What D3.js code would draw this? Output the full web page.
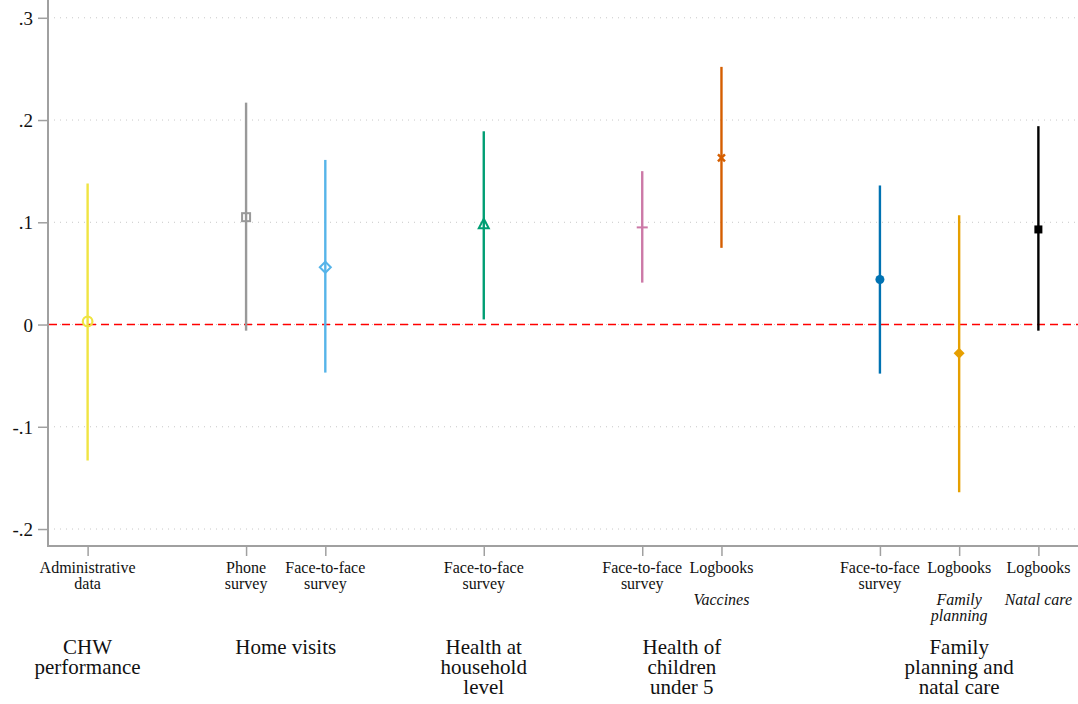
<!DOCTYPE html>
<html>
<head>
<meta charset="utf-8">
<script src="https://cdn.jsdelivr.net/npm/d3@7"></script>
<style>
  html, body { margin: 0; padding: 0; background: #ffffff; }
  svg { display: block; }
  svg text { font-family: "Liberation Serif", "Times New Roman", serif; }
</style>
</head>
<body>
<svg id="chart" width="1078" height="704"></svg>
<script>
// Outcome positions on the x axis (grouped with gaps between domains)
const positions = [1, 3, 4, 6, 8, 9, 11, 12, 13];
const tickLabels = [
  ["Administrative", "data"],
  ["Phone", "survey"],
  ["Face-to-face", "survey"],
  ["Face-to-face", "survey"],
  ["Face-to-face", "survey"],
  ["Logbooks"],
  ["Face-to-face", "survey"],
  ["Logbooks"],
  ["Logbooks"]
];
const subLabels = ["", "", "", "", "", "Vaccines", "", "Family|planning", "Natal care"];

// Point estimates and 95% confidence bounds
const estimates = [0.003, 0.105, 0.056, 0.098, 0.095, 0.163, 0.044, -0.028, 0.093];
const ciLow     = [-0.133, -0.006, -0.047, 0.005, 0.041, 0.075, -0.048, -0.164, -0.006];
const ciHigh    = [0.138, 0.217, 0.161, 0.189, 0.150, 0.252, 0.136, 0.107, 0.194];

const colors  = ["#f0e442", "#999999", "#56b4e9", "#009e73", "#cc79a7", "#d55e00", "#0072b2", "#e69f00", "#000000"];
const markers = ["circleHollow", "squareHollow", "diamondHollow", "triangleHollow", "plus", "x", "circle", "diamond", "square"];

// Domain groups
const groupNames = [
  ["CHW", "performance"],
  ["Home visits"],
  ["Health at", "household", "level"],
  ["Health of", "children", "under 5"],
  ["Family", "planning and", "natal care"]
];
const groupCenters = [1, 3.5, 6, 8.5, 12];

const yTicks = [0.3, 0.2, 0.1, 0, -0.1, -0.2];
const yTickLabels = [".3", ".2", ".1", "0", "-.1", "-.2"];

const serif = "Liberation Serif";
const svg = d3.select("#chart");
const plotLeft = 48, plotRight = 1078, plotTop = 0, plotBottom = 546;

const x = d3.scaleLinear().domain([0.5, 13.5]).range([plotLeft, plotRight]);
const y = d3.scaleLinear().domain([-0.2166, 0.3174]).range([plotBottom, plotTop]);

// Horizontal dotted gridlines
svg.append("g")
  .selectAll("line")
  .data(yTicks)
  .join("line")
  .attr("x1", plotLeft + 6).attr("x2", plotRight)
  .attr("y1", d => y(d)).attr("y2", d => y(d))
  .attr("stroke", "#c8c8c8")
  .attr("stroke-width", 1)
  .attr("stroke-dasharray", "1,5");

// Y axis
const yAxis = d3.axisLeft(y).tickValues(yTicks)
  .tickFormat((d, i) => yTickLabels[i]).tickSize(10).tickPadding(5);
const gy = svg.append("g").attr("transform", `translate(${plotLeft},0)`).call(yAxis)
  .attr("font-family", serif);
gy.select(".domain").remove();
gy.selectAll(".tick line").attr("stroke", "#a0a0a0").attr("stroke-width", 1.5);
gy.selectAll(".tick text").attr("font-size", 19).attr("font-family", serif).attr("fill", "#111").attr("dy", "0.34em");

// X axis
const xAxis = d3.axisBottom(x).tickValues(positions).tickFormat("").tickSize(10);
const gx = svg.append("g").attr("transform", `translate(0,${plotBottom})`).call(xAxis);
gx.select(".domain").remove();
gx.selectAll(".tick line").attr("stroke", "#a0a0a0").attr("stroke-width", 1.5);

// Axis lines
svg.append("line").attr("x1", plotLeft).attr("x2", plotLeft).attr("y1", 0).attr("y2", plotBottom + 1)
  .attr("stroke", "#a0a0a0").attr("stroke-width", 2);
svg.append("line").attr("x1", plotLeft).attr("x2", plotRight).attr("y1", plotBottom).attr("y2", plotBottom)
  .attr("stroke", "#a0a0a0").attr("stroke-width", 2);

// Zero reference line
svg.append("line")
  .attr("x1", plotLeft + 1).attr("x2", plotRight)
  .attr("y1", y(0)).attr("y2", y(0))
  .attr("stroke", "#ff0000")
  .attr("stroke-width", 1.6)
  .attr("stroke-dasharray", "8,5");

// Confidence intervals
svg.append("g")
  .selectAll("line")
  .data(positions)
  .join("line")
  .attr("x1", d => x(d)).attr("x2", d => x(d))
  .attr("y1", (d, i) => y(ciLow[i])).attr("y2", (d, i) => y(ciHigh[i]))
  .attr("stroke", (d, i) => colors[i])
  .attr("stroke-width", 2.4);

// Point estimate markers
const mg = svg.append("g");
positions.forEach((p, i) => {
  const cx = x(p), cy = y(estimates[i]), c = colors[i];
  const g = mg.append("g").attr("transform", `translate(${cx},${cy})`);
  switch (markers[i]) {
    case "circleHollow":
      g.append("circle").attr("r", 4.8).attr("fill", "none").attr("stroke", c).attr("stroke-width", 2.2);
      break;
    case "squareHollow":
      g.append("rect").attr("x", -4).attr("y", -4).attr("width", 8).attr("height", 8)
        .attr("fill", "none").attr("stroke", c).attr("stroke-width", 2);
      break;
    case "diamondHollow":
      g.append("path").attr("d", "M0,-5.5L5.5,0L0,5.5L-5.5,0Z").attr("fill", "none").attr("stroke", c).attr("stroke-width", 2);
      break;
    case "triangleHollow":
      g.append("path").attr("d", "M0,-5.5L5,4L-5,4Z").attr("fill", "none").attr("stroke", c).attr("stroke-width", 2);
      break;
    case "plus":
      g.append("path").attr("d", "M-5.5,0H5.5").attr("stroke", c).attr("stroke-width", 2);
      break;
    case "x":
      g.append("path").attr("d", "M-3.5,-3.5L3.5,3.5M-3.5,3.5L3.5,-3.5").attr("stroke", c).attr("stroke-width", 2.4);
      break;
    case "circle":
      g.append("circle").attr("r", 4.5).attr("fill", c);
      break;
    case "diamond":
      g.append("path").attr("d", "M0,-5.5L5.5,0L0,5.5L-5.5,0Z").attr("fill", c);
      break;
    case "square":
      g.append("rect").attr("x", -4).attr("y", -4).attr("width", 8).attr("height", 8).attr("fill", c);
      break;
  }
});

// Outcome labels under ticks
const lab = svg.append("g").attr("font-family", serif).attr("font-size", 16).attr("fill", "#111").attr("text-anchor", "middle");
positions.forEach((p, i) => {
  const t = lab.append("text").attr("x", x(p)).attr("y", 573);
  tickLabels[i].forEach((line, k) => {
    t.append("tspan").attr("x", x(p)).attr("dy", k === 0 ? 0 : 16).text(line);
  });
  if (subLabels[i]) {
    const s = lab.append("text").attr("x", x(p)).attr("y", 605).attr("font-style", "italic");
    subLabels[i].split("|").forEach((line, k) => {
      s.append("tspan").attr("x", x(p)).attr("dy", k === 0 ? 0 : 16).text(line);
    });
  }
});

// Domain group labels
const grp = svg.append("g").attr("font-family", serif).attr("font-size", 21).attr("fill", "#111").attr("text-anchor", "middle");
groupNames.forEach((lines, i) => {
  const t = grp.append("text").attr("x", x(groupCenters[i])).attr("y", 654);
  lines.forEach((line, k) => {
    t.append("tspan").attr("x", x(groupCenters[i])).attr("dy", k === 0 ? 0 : 20).text(line);
  });
});
</script>
</body>
</html>
